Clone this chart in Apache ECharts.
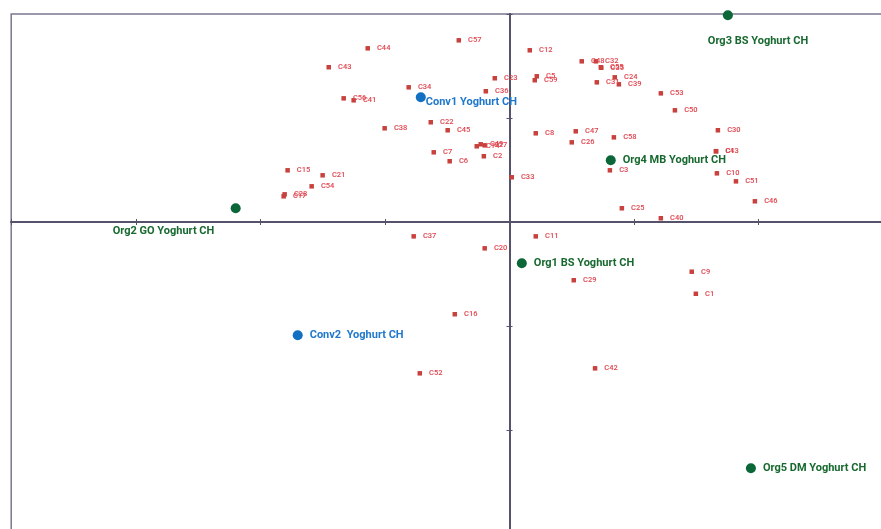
<!DOCTYPE html>
<html>
<head>
<meta charset="utf-8">
<script src="https://cdn.jsdelivr.net/npm/echarts@6/dist/echarts.min.js"></script>
<style>html,body{margin:0;padding:0;background:#fff;overflow:hidden;}#c{width:886px;height:538px;}</style>
</head>
<body>
<div id="c"></div>
<script>
// Attribute (red) points
const attrNames = ['C57','C44','C43','C34','C36','C23','C56','C41','C22','C38','C45','C7','C6','C2','C14','C49','C27','C15','C21','C54','C28','C17','C12','C48','C32','C55','C35','C24','C39','C31','C5','C59','C53','C50','C8','C47','C30','C58','C26','C4','C13','C3','C33','C10','C51','C46','C25','C40','C37','C11','C20','C29','C9','C1','C16','C52','C42'];
const attrX = [-0.407,-1.138,-1.451,-0.809,-0.190,-0.118,-1.331,-1.251,-0.632,-1.002,-0.496,-0.608,-0.480,-0.206,-0.263,-0.231,-0.199,-1.781,-1.500,-1.588,-1.805,-1.813,0.163,0.580,0.693,0.733,0.737,0.845,0.878,0.701,0.219,0.203,1.215,1.328,0.211,0.532,1.673,0.838,0.500,1.657,1.659,0.806,0.018,1.665,1.818,1.970,0.902,1.215,-0.769,0.211,-0.199,0.516,1.463,1.496,-0.439,-0.720,0.687];
const attrY = [1.747,1.670,1.488,1.295,1.257,1.382,1.189,1.170,0.959,0.901,0.882,0.670,0.584,0.632,0.728,0.747,0.737,0.497,0.449,0.343,0.266,0.247,1.651,1.545,1.545,1.488,1.483,1.391,1.324,1.343,1.401,1.363,1.237,1.074,0.853,0.872,0.882,0.814,0.766,0.680,0.681,0.497,0.430,0.468,0.391,0.199,0.132,0.036,-0.138,-0.138,-0.253,-0.560,-0.478,-0.690,-0.887,-1.455,-1.407];

// Organic products (green)
const orgNames = ['Org1 BS Yoghurt CH','Org2 GO Yoghurt CH','Org3 BS Yoghurt CH','Org4 MB Yoghurt CH','Org5 DM Yoghurt CH'];
const orgX = [0.099,-2.198,1.753,0.813,1.938];
const orgY = [-0.397,0.132,1.988,0.593,-2.368];

// Conventional products (blue)
const convNames = ['Conv1 Yoghurt CH','Conv2  Yoghurt CH'];
const convX = [-0.712,-1.700];
const convY = [1.199,-1.089];

const FONT = 'Roboto';
const axisCol = '#55536b';

function pts(xs, ys, names){ return xs.map((x,i)=>({value:[x, ys[i]], name:names[i]})); }

const orgData = pts(orgX, orgY, orgNames);
orgData[1].label = {position:[-118, 28], align:'left', verticalAlign:'middle'};
orgData[2].label = {position:[-15, 31], align:'left', verticalAlign:'middle'};
const convData = pts(convX, convY, convNames);
convData[0].label = {position:'right', distance:0, offset:[0,5]};

const chart = echarts.init(document.getElementById('c'));
const xAxisBase = {type:'value', min:-4, max:3, interval:1, splitLine:{show:false}, axisLabel:{show:false},
  axisLine:{show:true, onZero:true, onZeroAxisIndex:0, lineStyle:{color:axisCol, width:2}},
  axisTick:{show:true, length:3, lineStyle:{color:axisCol, width:1}}};
const yAxisBase = {type:'value', min:-3, max:2, interval:1, splitLine:{show:false}, axisLabel:{show:false},
  axisLine:{show:true, onZero:true, onZeroAxisIndex:0, lineStyle:{color:axisCol, width:2}},
  axisTick:{show:true, length:3, lineStyle:{color:axisCol, width:1}}};
chart.setOption({
  animation:false,
  backgroundColor:'#fff',
  grid:{left:11.2, top:14, width:872, height:520, show:true, borderColor:'#7a778f', borderWidth:1.5, backgroundColor:'transparent'},
  xAxis:[Object.assign({position:'bottom'}, xAxisBase), Object.assign({position:'top'}, xAxisBase)],
  yAxis:[Object.assign({position:'left'}, yAxisBase), Object.assign({position:'right'}, yAxisBase)],
  series:[
    {type:'scatter', symbol:'rect', symbolSize:4.5, itemStyle:{color:'#c8413d', opacity:1},
     data:pts(attrX, attrY, attrNames),
     label:{show:true, position:'right', distance:7, formatter:'{b}', color:'#e0424c', fontSize:7.5, fontWeight:500, fontFamily:FONT}},
    {type:'scatter', symbol:'circle', symbolSize:10, itemStyle:{color:'#0b6638', opacity:1},
     data:orgData,
     label:{show:true, position:'right', distance:7, formatter:'{b}', color:'#17692f', fontSize:11, fontWeight:'bold', fontFamily:FONT}},
    {type:'scatter', symbol:'circle', symbolSize:10, itemStyle:{color:'#1270c2', opacity:1},
     data:convData,
     label:{show:true, position:'right', distance:7, formatter:'{b}', color:'#1f78cc', fontSize:11, fontWeight:'bold', fontFamily:FONT}}
  ]
});
</script>
</body>
</html>
